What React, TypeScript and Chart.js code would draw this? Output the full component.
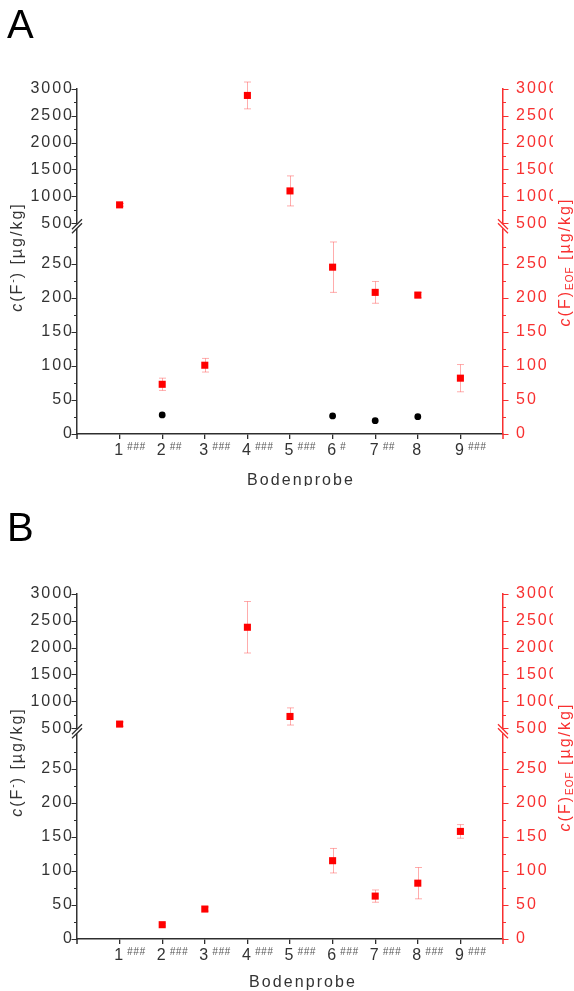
import React, { useEffect, useRef } from 'react';
import { Chart, registerables } from 'chart.js';

Chart.register(...registerables);

// ---------- data ----------
const categories = [1, 2, 3, 4, 5, 6, 7, 8, 9];
const tickDigits = ['1', '2', '3', '4', '5', '6', '7', '8', '9'];
const significanceA = ['###', '##', '###', '###', '###', '#', '##', '', '###'];
const significanceB = ['###', '###', '###', '###', '###', '###', '###', '###', '###'];

// c(F)EOF  [µg/kg]  (red squares, right axis)
const eofA = [840, 73, 101, 2880, 1100, 245, 208, 204, 82];
const eofErrA = [25, 9, 10, 250, 280, 37, 16, 4, 20];
const eofB = [575, 21, 44, 2380, 717, 115, 63, 82, 158];
const eofErrB = [40, 2, 3, 480, 160, 18, 9, 23, 10];

// c(F-)  [µg/kg]  (black circles, left axis)
const fluorideA = [null, 28, null, null, null, 26.5, 19.5, 25.5, null];
const fluorideB = [null, null, null, null, null, null, null, null, null];

// axis ticks
const lowerMajorTicks = [0, 50, 100, 150, 200, 250];
const lowerMinorTicks = [25, 75, 125, 175, 225, 275];
const upperMajorTicks = [500, 1000, 1500, 2000, 2500, 3000];
const upperMinorTicks = [750, 1250, 1750, 2250, 2750];
const lowerRange = [0, 305];
const upperRange = [440, 3000];
const breakValue = 400;

// ---------- style ----------
const FONT = '"Liberation Sans", Arial, sans-serif';
const RED = '#ff0000';
const RED_TEXT = '#f83030';
const AXIS = '#2e2e2e';
const TEXT = '#333333';
const ERR = 'rgba(255,70,70,0.45)';

type Panel = {
  letter: string;
  letterY: number;
  titleY: number;
  titleX: number;
  sup: string[];
  eof: number[];
  eofErr: number[];
  fluoride: (number | null)[];
};

const panels: Panel[] = [
  { letter: 'A', letterY: 38, titleY: 485, titleX: 301, sup: significanceA, eof: eofA, eofErr: eofErrA, fluoride: fluorideA },
  { letter: 'B', letterY: 36, titleY: 482, titleX: 303, sup: significanceB, eof: eofB, eofErr: eofErrB, fluoride: fluorideB },
];

type Piece = { t: string; font: string; dy: number; ls: string };

function drawRotated(ctx: CanvasRenderingContext2D, pieces: Piece[], cx: number, cy: number, color: string) {
  ctx.save();
  ctx.translate(cx, cy);
  ctx.rotate(-Math.PI / 2);
  ctx.fillStyle = color;
  ctx.textBaseline = 'alphabetic';
  ctx.textAlign = 'left';
  const widths = pieces.map((p) => {
    ctx.font = p.font;
    (ctx as any).letterSpacing = p.ls;
    return ctx.measureText(p.t).width;
  });
  const total = widths.reduce((a, b) => a + b, 0);
  let x = -total / 2;
  pieces.forEach((p, i) => {
    ctx.font = p.font;
    (ctx as any).letterSpacing = p.ls;
    ctx.fillText(p.t, x, p.dy);
    x += widths[i];
  });
  ctx.restore();
}

function makeDecor(panel: Panel) {
  return {
    id: 'decor' + panel.letter,
    beforeUpdate(chart: any) {
      chart.ctx.letterSpacing = '2px';
    },
    beforeLayout(chart: any) {
      chart.ctx.letterSpacing = '2px';
    },
    beforeDraw(chart: any) {
      chart.ctx.letterSpacing = '2px';
    },
    beforeDatasetsDraw(chart: any) {
      const ctx: CanvasRenderingContext2D = chart.ctx;
      ctx.save();
      ctx.strokeStyle = ERR;
      ctx.lineWidth = 1;
      chart.data.datasets.forEach((ds: any, i: number) => {
        if (!ds.errorBars) return;
        const scale = chart.scales[ds.yAxisID];
        const meta = chart.getDatasetMeta(i);
        meta.data.forEach((el: any, j: number) => {
          const raw = ds.data[j];
          if (!raw || !raw.e) return;
          const x = Math.round(el.x) + 0.5;
          const top = scale.getPixelForValue(raw.y + raw.e);
          const bot = scale.getPixelForValue(raw.y - raw.e);
          ctx.beginPath();
          ctx.moveTo(x, top);
          ctx.lineTo(x, bot);
          ctx.moveTo(x - 3.5, top);
          ctx.lineTo(x + 3.5, top);
          ctx.moveTo(x - 3.5, bot);
          ctx.lineTo(x + 3.5, bot);
          ctx.stroke();
        });
      });
      ctx.restore();
    },
    afterDraw(chart: any) {
      const ctx: CanvasRenderingContext2D = chart.ctx;
      const area = chart.chartArea;
      ctx.save();
      (ctx as any).letterSpacing = '0px';

      // y-axis ticks (major + minor)
      const drawTicks = (id: string, majors: number[], minors: number[], side: 'left' | 'right', color: string) => {
        const s = chart.scales[id];
        const x0 = side === 'left' ? s.right : s.left;
        const dir = side === 'left' ? -1 : 1;
        ctx.strokeStyle = color;
        ctx.lineWidth = 1.2;
        ctx.beginPath();
        const add = (v: number, len: number) => {
          if (v < s.min || v > s.max) return;
          const y = Math.round(s.getPixelForValue(v)) + 0.5;
          ctx.moveTo(x0, y);
          ctx.lineTo(x0 + dir * len, y);
        };
        majors.forEach((v) => add(v, 5.5));
        minors.forEach((v) => add(v, 3));
        ctx.stroke();
      };
      drawTicks('yLL', lowerMajorTicks, lowerMinorTicks, 'left', AXIS);
      drawTicks('yHL', upperMajorTicks, upperMinorTicks, 'left', AXIS);
      drawTicks('yLR', lowerMajorTicks, lowerMinorTicks, 'right', RED_TEXT);
      drawTicks('yHR', upperMajorTicks, upperMinorTicks, 'right', RED_TEXT);

      // axis extensions below the x axis
      ctx.lineWidth = 1.5;
      ctx.strokeStyle = AXIS;
      ctx.beginPath();
      ctx.moveTo(area.left, area.bottom);
      ctx.lineTo(area.left, area.bottom + 5);
      ctx.stroke();
      ctx.strokeStyle = RED_TEXT;
      ctx.beginPath();
      ctx.moveTo(area.right, area.bottom);
      ctx.lineTo(area.right, area.bottom + 5);
      ctx.stroke();

      // axis break marks
      const yb = chart.scales.yLL.top;
      const drawBreak = (x: number, color: string, mirror: number) => {
        ctx.fillStyle = '#ffffff';
        ctx.fillRect(x - 2, yb - 2, 4, 4);
        ctx.strokeStyle = color;
        ctx.lineWidth = 1.3;
        ctx.beginPath();
        [-2, 2].forEach((d) => {
          ctx.moveTo(x - 5, yb + d + 5 * mirror);
          ctx.lineTo(x + 5, yb + d - 5 * mirror);
        });
        ctx.stroke();
      };
      drawBreak(area.left, AXIS, 1);
      drawBreak(area.right, RED_TEXT, -1);

      // superscript significance marks on x tick labels
      const xs = chart.scales.x;
      ctx.font = 'italic 10px ' + FONT;
      (ctx as any).letterSpacing = '0.6px';
      ctx.fillStyle = '#555555';
      ctx.textAlign = 'left';
      ctx.textBaseline = 'alphabetic';
      categories.forEach((c, i) => {
        const s = panel.sup[i];
        if (!s) return;
        ctx.fillText(s, xs.getPixelForValue(c) + 7.5, xs.top + 16);
      });

      // x-axis title
      ctx.font = '16px ' + FONT;
      (ctx as any).letterSpacing = '2.1px';
      ctx.fillStyle = TEXT;
      ctx.textAlign = 'center';
      ctx.fillText('Bodenprobe', panel.titleX, panel.titleY);

      // y-axis titles
      const base = '16px ' + FONT;
      drawRotated(
        ctx,
        [
          { t: 'c', font: 'italic ' + base, dy: 0, ls: '2px' },
          { t: '(F', font: base, dy: 0, ls: '2px' },
          { t: '-', font: '10px ' + FONT, dy: -6, ls: '1px' },
          { t: ') [µg/kg]', font: base, dy: 0, ls: '2px' },
        ],
        22,
        257,
        TEXT,
      );
      drawRotated(
        ctx,
        [
          { t: 'c', font: 'italic ' + base, dy: 0, ls: '2px' },
          { t: '(F)', font: base, dy: 0, ls: '2px' },
          { t: 'EOF', font: '10px ' + FONT, dy: 3, ls: '1px' },
          { t: ' [µg/kg]', font: base, dy: 0, ls: '2px' },
        ],
        570,
        262,
        RED_TEXT,
      );

      // panel letter
      ctx.font = '40px ' + FONT;
      (ctx as any).letterSpacing = '0px';
      ctx.fillStyle = '#000000';
      ctx.textAlign = 'left';
      ctx.fillText(panel.letter, 7, panel.letterY);

      ctx.restore();
    },
  };
}

function yScale(position: 'left' | 'right', range: number[], majors: number[], weight: number, color: string, pad: number) {
  return {
    type: 'linear',
    position,
    stack: position,
    stackWeight: weight,
    min: range[0],
    max: range[1],
    afterBuildTicks: (s: any) => {
      s.ticks = majors.map((v) => ({ value: v }));
    },
    afterFit: (s: any) => {
      s.width = 50;
    },
    ticks: {
      color,
      padding: pad,
      autoSkip: false,
      font: { family: FONT, size: 16 },
      callback: (v: number) => String(v),
    },
    grid: { display: false, drawTicks: false },
    border: { display: true, color, width: 1.5 },
  };
}

function buildConfig(panel: Panel): any {
  const upper = categories
    .map((c, i) => (panel.eof[i] >= breakValue ? { x: c, y: panel.eof[i], e: panel.eofErr[i] } : null))
    .filter(Boolean);
  const lower = categories
    .map((c, i) => (panel.eof[i] < breakValue ? { x: c, y: panel.eof[i], e: panel.eofErr[i] } : null))
    .filter(Boolean);
  const fl = categories
    .map((c, i) => (panel.fluoride[i] != null ? { x: c, y: panel.fluoride[i] } : null))
    .filter(Boolean);

  const LOWER_W = 207.5;
  const UPPER_W = 137.2;

  return {
    type: 'scatter',
    data: {
      datasets: [
        {
          label: 'c(F)EOF high',
          data: upper,
          yAxisID: 'yHR',
          xAxisID: 'x',
          pointStyle: 'rect',
          pointRadius: 5,
          backgroundColor: RED,
          borderColor: RED,
          borderWidth: 0,
          clip: false,
          errorBars: true,
        },
        {
          label: 'c(F)EOF low',
          data: lower,
          yAxisID: 'yLR',
          xAxisID: 'x',
          pointStyle: 'rect',
          pointRadius: 5,
          backgroundColor: RED,
          borderColor: RED,
          borderWidth: 0,
          clip: false,
          errorBars: true,
        },
        {
          label: 'c(F-)',
          data: fl,
          yAxisID: 'yLL',
          xAxisID: 'x',
          pointStyle: 'circle',
          pointRadius: 3.4,
          backgroundColor: '#000000',
          borderColor: '#000000',
          borderWidth: 0,
          clip: false,
        },
      ],
    },
    options: {
      animation: false,
      responsive: false,
      devicePixelRatio: 1,
      layout: { padding: { left: 27, right: 21, top: 89, bottom: 0 } },
      plugins: {
        legend: { display: false },
        tooltip: { enabled: false },
        title: { display: false },
      },
      scales: {
        x: {
          type: 'linear',
          position: 'bottom',
          min: 0,
          max: 10,
          afterBuildTicks: (s: any) => {
            s.ticks = categories.map((v) => ({ value: v }));
          },
          afterFit: (s: any) => {
            s.height = 52;
          },
          ticks: {
            color: TEXT,
            padding: 2,
            autoSkip: false,
            maxRotation: 0,
            font: { family: FONT, size: 16 },
            callback: (v: number) => {
              const i = categories.indexOf(v);
              return i >= 0 ? tickDigits[i] : '';
            },
          },
          grid: { display: true, drawOnChartArea: false, drawTicks: true, tickLength: 5, color: AXIS, lineWidth: 1.3 },
          border: { display: true, color: AXIS, width: 1.5 },
        },
        yLL: yScale('left', lowerRange, lowerMajorTicks, LOWER_W, TEXT, 3),
        yHL: yScale('left', upperRange, upperMajorTicks, UPPER_W, TEXT, 3),
        yHR: yScale('right', upperRange, upperMajorTicks, UPPER_W, RED_TEXT, 13),
        yLR: yScale('right', lowerRange, lowerMajorTicks, LOWER_W, RED_TEXT, 13),
      },
    },
    plugins: [makeDecor(panel)],
  };
}

function PanelChart({ panel, top }: { panel: Panel; top: number }) {
  const ref = useRef<HTMLCanvasElement | null>(null);
  useEffect(() => {
    if (!ref.current) return;
    const chart = new Chart(ref.current, buildConfig(panel));
    return () => chart.destroy();
  }, [panel]);
  return (
    <canvas
      ref={ref}
      width={574}
      height={486}
      style={{ position: 'absolute', left: 0, top, width: 574, height: 486 }}
    />
  );
}

export default function App() {
  return (
    <div style={{ position: 'absolute', left: 0, top: 0, width: 574, height: 991, background: '#ffffff' }}>
      <PanelChart panel={panels[0]} top={0} />
      <PanelChart panel={panels[1]} top={505} />
    </div>
  );
}
